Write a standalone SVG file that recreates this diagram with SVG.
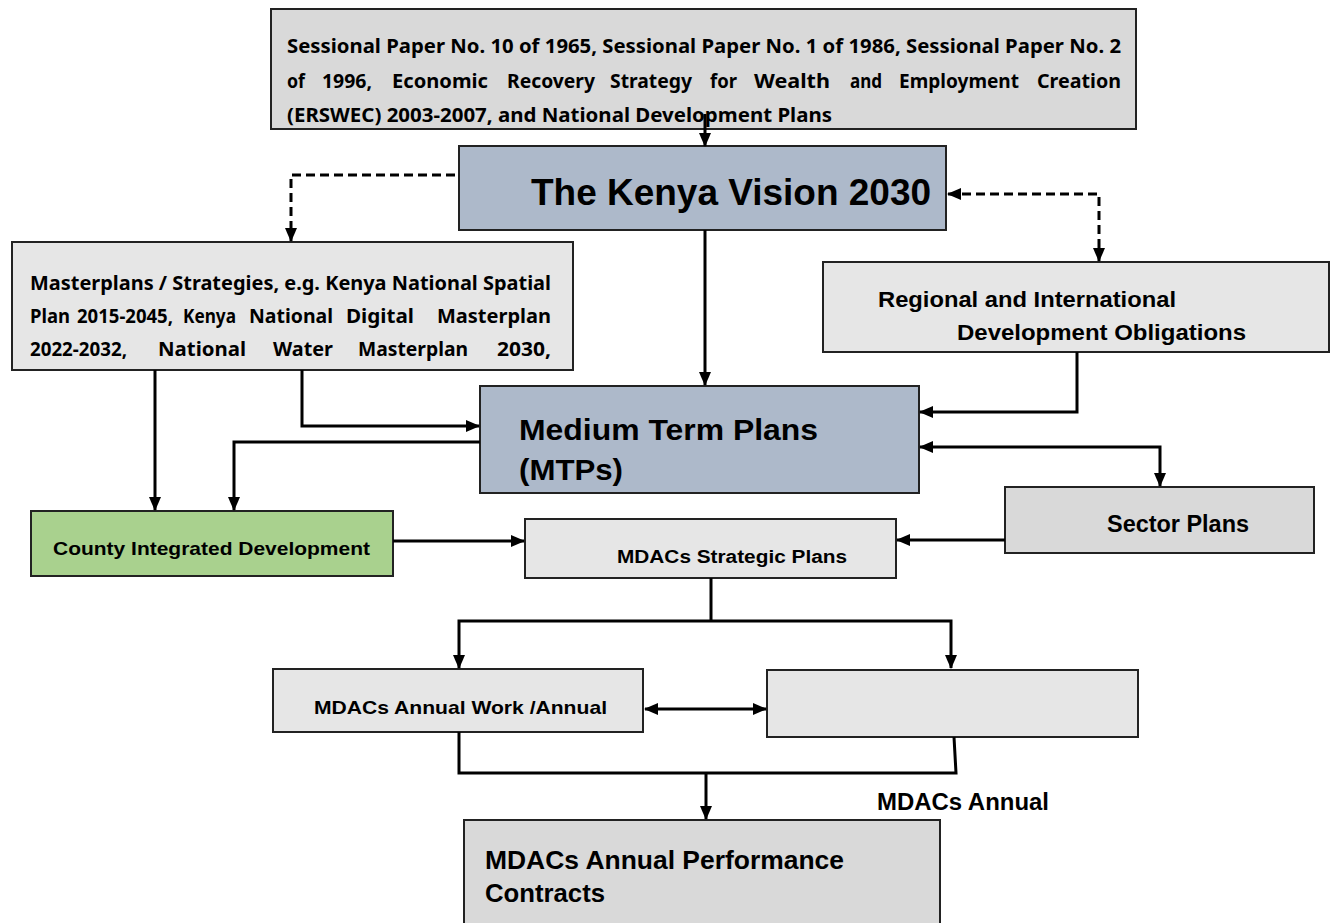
<svg xmlns="http://www.w3.org/2000/svg" width="1335" height="923" viewBox="0 0 1335 923">
<defs>
<marker id="ah" markerUnits="userSpaceOnUse" markerWidth="14" markerHeight="12" refX="13" refY="6" orient="auto">
<path d="M0,0 L14,6 L0,12 Z" fill="#000"/>
</marker>
<marker id="as" markerUnits="userSpaceOnUse" markerWidth="14" markerHeight="12" refX="1" refY="6" orient="auto">
<path d="M14,0 L0,6 L14,12 Z" fill="#000"/>
</marker>
<style>
.box{stroke:#222;stroke-width:2}
.g1{fill:#d9d9d9}
.g2{fill:#e6e6e6}
.blue{fill:#adb9ca}
.green{fill:#a9d18e}
.cal{font-family:"Noto Sans","Open Sans",sans-serif;font-weight:bold;fill:#000;font-size:19px}
.ar{font-family:"Liberation Sans",Arial,sans-serif;font-weight:bold;fill:#000}
.c{fill:none;stroke:#000;stroke-width:3}
.d{fill:none;stroke:#000;stroke-width:3;stroke-dasharray:9,5}
</style>
</defs>
<rect width="1335" height="923" fill="#fff"/>

<g id="sessional">
<rect class="box g1" x="271" y="9" width="865" height="120"/>
<text class="cal" x="287" y="53" textLength="834" lengthAdjust="spacingAndGlyphs">Sessional Paper No. 10 of 1965, Sessional Paper No. 1 of 1986, Sessional Paper No. 2</text>
<text class="cal" y="88" x="287" textLength="18" lengthAdjust="spacingAndGlyphs">of</text>
<text class="cal" y="88" x="322" textLength="50" lengthAdjust="spacingAndGlyphs">1996,</text>
<text class="cal" y="88" x="392" textLength="96" lengthAdjust="spacingAndGlyphs">Economic</text>
<text class="cal" y="88" x="507" textLength="88" lengthAdjust="spacingAndGlyphs">Recovery</text>
<text class="cal" y="88" x="610" textLength="82" lengthAdjust="spacingAndGlyphs">Strategy</text>
<text class="cal" y="88" x="710" textLength="27" lengthAdjust="spacingAndGlyphs">for</text>
<text class="cal" y="88" x="754" textLength="76" lengthAdjust="spacingAndGlyphs">Wealth</text>
<text class="cal" y="88" x="850" textLength="32" lengthAdjust="spacingAndGlyphs">and</text>
<text class="cal" y="88" x="899" textLength="120" lengthAdjust="spacingAndGlyphs">Employment</text>
<text class="cal" y="88" x="1037" textLength="84" lengthAdjust="spacingAndGlyphs">Creation</text>
<text class="cal" x="287" y="122" textLength="545" lengthAdjust="spacingAndGlyphs">(ERSWEC) 2003-2007, and National Development Plans</text>
</g>

<g id="vision">
<rect class="box blue" x="459" y="146" width="487" height="84"/>
<text class="ar" font-size="36" x="531" y="205" textLength="400" lengthAdjust="spacingAndGlyphs">The Kenya Vision 2030</text>
</g>

<g id="masterplans">
<rect class="box g2" x="12" y="242" width="561" height="128"/>
<text class="cal" x="30" y="290" textLength="521" lengthAdjust="spacingAndGlyphs">Masterplans / Strategies, e.g. Kenya National Spatial</text>
<text class="cal" y="323" x="30" textLength="40" lengthAdjust="spacingAndGlyphs">Plan</text>
<text class="cal" y="323" x="77" textLength="96" lengthAdjust="spacingAndGlyphs">2015-2045,</text>
<text class="cal" y="323" x="183" textLength="53" lengthAdjust="spacingAndGlyphs">Kenya</text>
<text class="cal" y="323" x="249" textLength="84" lengthAdjust="spacingAndGlyphs">National</text>
<text class="cal" y="323" x="346" textLength="68" lengthAdjust="spacingAndGlyphs">Digital</text>
<text class="cal" y="323" x="437" textLength="114" lengthAdjust="spacingAndGlyphs">Masterplan</text>
<text class="cal" y="356" x="30" textLength="97" lengthAdjust="spacingAndGlyphs">2022-2032,</text>
<text class="cal" y="356" x="158" textLength="88" lengthAdjust="spacingAndGlyphs">National</text>
<text class="cal" y="356" x="273" textLength="60" lengthAdjust="spacingAndGlyphs">Water</text>
<text class="cal" y="356" x="358" textLength="110" lengthAdjust="spacingAndGlyphs">Masterplan</text>
<text class="cal" y="356" x="497" textLength="54" lengthAdjust="spacingAndGlyphs">2030,</text>
</g>

<g id="regional">
<rect class="box g2" x="823" y="262" width="506" height="90"/>
<text class="ar" font-size="22" x="878" y="307" textLength="298" lengthAdjust="spacingAndGlyphs">Regional and International</text>
<text class="ar" font-size="22" x="957" y="340" textLength="289" lengthAdjust="spacingAndGlyphs">Development Obligations</text>
</g>

<g id="mtp">
<rect class="box blue" x="480" y="386" width="439" height="107"/>
<text class="ar" font-size="30" x="519" y="440" textLength="299" lengthAdjust="spacingAndGlyphs">Medium Term Plans</text>
<text class="ar" font-size="30" x="519" y="480" textLength="104" lengthAdjust="spacingAndGlyphs">(MTPs)</text>
</g>

<g id="county">
<rect class="box green" x="31" y="511" width="362" height="65"/>
<text class="ar" font-size="19" x="53" y="555" textLength="317" lengthAdjust="spacingAndGlyphs">County Integrated Development</text>
</g>

<g id="strategic">
<rect class="box g2" x="525" y="519" width="371" height="59"/>
<text class="ar" font-size="18" x="617" y="563" textLength="230" lengthAdjust="spacingAndGlyphs">MDACs Strategic Plans</text>
</g>

<g id="sector">
<rect class="box g1" x="1005" y="487" width="309" height="66"/>
<text class="ar" font-size="23" x="1107" y="532" textLength="142" lengthAdjust="spacingAndGlyphs">Sector Plans</text>
</g>

<g id="annualwork">
<rect class="box g2" x="273" y="669" width="370" height="63"/>
<text class="ar" font-size="19" x="314" y="714" textLength="293" lengthAdjust="spacingAndGlyphs">MDACs Annual Work /Annual</text>
</g>

<g id="annualright">
<rect class="box g2" x="767" y="670" width="371" height="67"/>
</g>

<g id="annuallabel">
<text class="ar" font-size="23" x="877" y="810" textLength="172" lengthAdjust="spacingAndGlyphs">MDACs Annual</text>
</g>

<g id="performance">
<rect class="box g1" x="464" y="820" width="476" height="110"/>
<text class="ar" font-size="26" x="485" y="869" textLength="359" lengthAdjust="spacingAndGlyphs">MDACs Annual Performance</text>
<text class="ar" font-size="26" x="485" y="902" textLength="120" lengthAdjust="spacingAndGlyphs">Contracts</text>
</g>

<g id="connectors">
<path class="c" d="M705,114 V146" marker-end="url(#ah)"/>
<path class="d" d="M455,175 H291 V241" marker-end="url(#ah)"/>
<path class="d" d="M948,194 H1099 V261" marker-start="url(#as)" marker-end="url(#ah)"/>
<path class="c" d="M705,230 V385" marker-end="url(#ah)"/>
<path class="c" d="M155,370 V510" marker-end="url(#ah)"/>
<path class="c" d="M302,370 V426 H479" marker-end="url(#ah)"/>
<path class="c" d="M480,442 H234 V510" marker-end="url(#ah)"/>
<path class="c" d="M1077,352 V412 H920" marker-end="url(#ah)"/>
<path class="c" d="M920,447 H1160 V486" marker-start="url(#as)" marker-end="url(#ah)"/>
<path class="c" d="M393,541 H524" marker-end="url(#ah)"/>
<path class="c" d="M1005,540 H897" marker-end="url(#ah)"/>
<path class="c" d="M711,578 V621"/>
<path class="c" d="M459,668 V621 H951 V668" marker-start="url(#as)" marker-end="url(#ah)"/>
<path class="c" d="M645,709 H766" marker-start="url(#as)" marker-end="url(#ah)"/>
<path class="c" d="M459,732 V773 H956 L954,737"/>
<path class="c" d="M706,773 V819" marker-end="url(#ah)"/>
</g>
</svg>
